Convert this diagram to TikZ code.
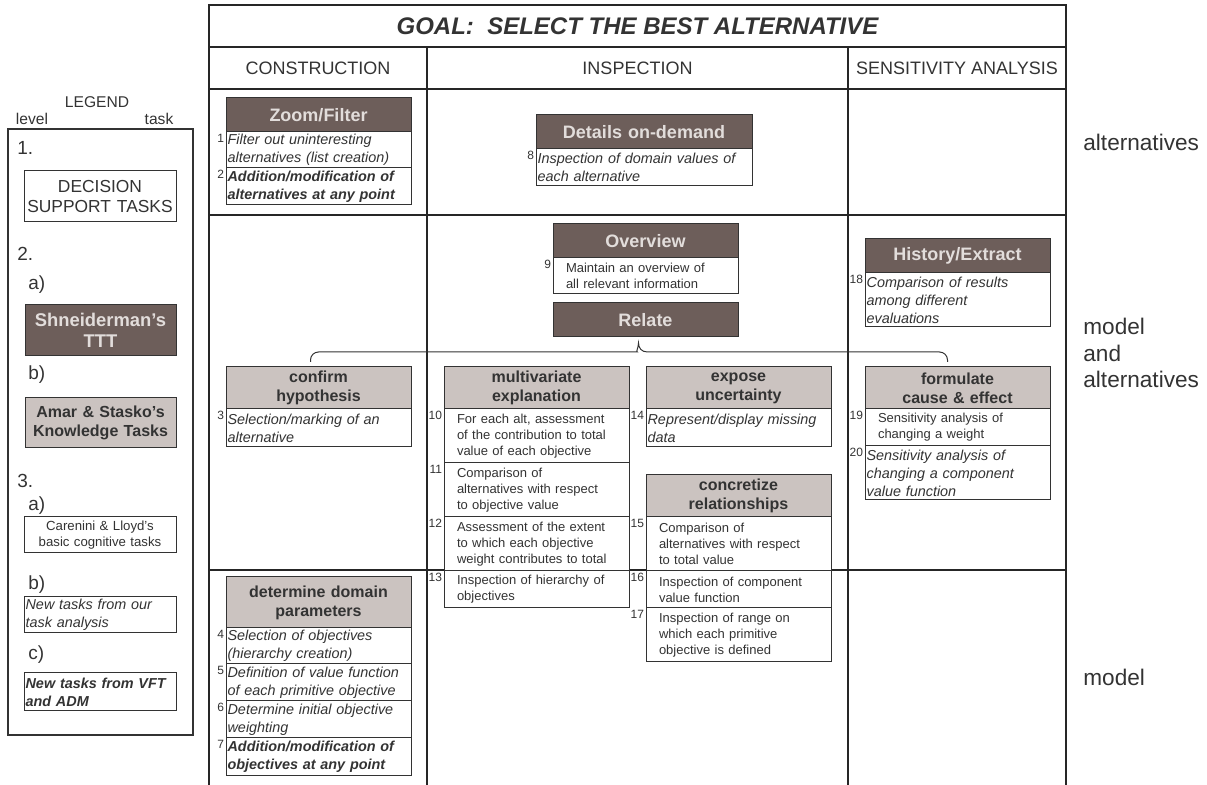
\documentclass[tikz,border=0pt]{standalone}
\usepackage{fontspec}
\setmainfont{Liberation Sans}
\usetikzlibrary{positioning,calc}

\definecolor{darkhd}{HTML}{6D5E5A}
\definecolor{lighthd}{HTML}{CBC3C0}
\definecolor{titlelt}{HTML}{E2DDDB}
\definecolor{ink}{HTML}{333333}

\tikzset{
  grid/.style={draw=black!85, line width=0.55pt},
  cell/.style={draw=ink, line width=0.5pt, outer sep=0pt, inner ysep=0pt, text=ink},
  dkhd/.style={cell, fill=darkhd, text=titlelt, font=\fontsize{9}{10}\selectfont\bfseries,
    inner xsep=0pt, text width=92.5pt, align=center, minimum height=17pt},
  lthd/.style={cell, fill=lighthd, font=\fontsize{8}{9.5}\selectfont\bfseries,
    inner xsep=0pt, text width=92.5pt, align=center, minimum height=21pt},
  itrow/.style={cell, fill=white, font=\fontsize{7.2}{9}\selectfont\itshape,
    inner xsep=0.8pt, text width=90.9pt, align=left, minimum height=18pt},
  bitrow/.style={itrow, font=\fontsize{7.2}{9}\selectfont\bfseries\itshape},
  rgrow/.style={cell, fill=white, font=\fontsize{6.5}{7.9}\selectfont,
    inner xsep=6.5pt, text width=79.5pt, align=left, minimum height=18pt},
  tall/.style={minimum height=27pt},
  num/.style={font=\fontsize{6}{6.5}\selectfont, text=ink, inner sep=0.8pt, anchor=north east},
  colhd/.style={font=\fontsize{9}{10}\selectfont, text=ink},
  lgtxt/.style={font=\fontsize{7.8}{9}\selectfont, text=ink},
  lgnum/.style={font=\fontsize{9.5}{11}\selectfont, text=ink, anchor=west, inner sep=0pt},
  side/.style={font=\fontsize{11.3}{13.4}\selectfont, text=ink, anchor=west, align=left, inner sep=0pt},
  brace/.style={draw=ink, line width=0.5pt}
}

\begin{document}
\begin{tikzpicture}[x=0.5pt,y=-0.5pt]
\useasboundingbox (0,0) rectangle (1207,785);

% table frame
\draw[grid] (209,785) -- (209,5) -- (1066,5) -- (1066,785);
\draw[grid] (209,47) -- (1066,47);
\foreach \y in {89,215,570} \draw[grid] (209,\y) -- (1066,\y);
\foreach \x in {427,848} \draw[grid] (\x,47) -- (\x,785);

\node[font=\fontsize{12}{14}\selectfont\bfseries\itshape, text=ink] (goal) at (637.5,26) {GOAL:\ \ SELECT THE BEST ALTERNATIVE};
\node[colhd] (hcon) at (318,68) {CONSTRUCTION};
\node[colhd] (hins) at (637.5,68) {INSPECTION};
\node[colhd] (hsen) at (957,68) {SENSITIVITY ANALYSIS};

% alternatives row
\node[dkhd, anchor=north west] (zoom) at (226,98) {Zoom/Filter};
\node[itrow, below=0pt of zoom] (r1) {Filter out uninteresting\\alternatives (list creation)};
\node[bitrow, below=0pt of r1, minimum height=18.5pt] (r2) {Addition/modification of\\alternatives at any point};
\node[num] (n1) at (r1.north west) {1};
\node[num] (n2) at (r2.north west) {2};

\node[dkhd, text width=108pt, anchor=north west] (details) at (536,115) {Details on-demand};
\node[itrow, text width=106.4pt, below=0pt of details, minimum height=18.5pt] (r8) {Inspection of domain values of\\each alternative};
\node[num] (n8) at (r8.north west) {8};

% model and alternatives row
\node[dkhd, anchor=north west] (overview) at (553,224) {Overview};
\node[rgrow, below=0pt of overview] (r9) {Maintain an overview of\\all relevant information};
\node[num] (n9) at (r9.north west) {9};
\node[dkhd, anchor=north west] (relate) at (553,303) {Relate};

\node[dkhd, anchor=north west] (history) at (865,239) {History/Extract};
\node[itrow, tall, below=0pt of history] (r18) {Comparison of results\\among different\\evaluations};
\node[num] (n18) at (r18.north west) {18};

\node[lthd, anchor=north west] (confirm) at (226,367) {confirm\\hypothesis};
\node[itrow, below=0pt of confirm, minimum height=19pt] (r3) {Selection/marking of an\\alternative};
\node[num] (n3) at (r3.north west) {3};

\node[lthd, anchor=north west] (multi) at (444,367) {multivariate\\explanation};
\node[rgrow, tall, below=0pt of multi] (r10) {For each alt, assessment\\of the contribution to total\\value of each objective};
\node[rgrow, tall, below=0pt of r10] (r11) {Comparison of\\alternatives with respect\\to objective value};
\node[rgrow, tall, below=0pt of r11] (r12) {Assessment of the extent\\to which each objective\\weight contributes to total};
\node[rgrow, below=0pt of r12, minimum height=18.5pt] (r13) {Inspection of hierarchy of\\objectives};
\foreach \n in {10,11,12,13} \node[num] (n\n) at (r\n.north west) {\n};

\node[lthd, anchor=north west] (expose) at (646,367) {expose\\uncertainty};
\node[itrow, below=0pt of expose, minimum height=19pt] (r14) {Represent/display missing\\data};
\node[num] (n14) at (r14.north west) {14};

\node[lthd, anchor=north west] (concrete) at (646,475) {concretize\\relationships};
\node[rgrow, tall, below=0pt of concrete] (r15) {Comparison of\\alternatives with respect\\to total value};
\node[rgrow, below=0pt of r15, minimum height=18.5pt] (r16) {Inspection of component\\value function};
\node[rgrow, tall, below=0pt of r16] (r17) {Inspection of range on\\which each primitive\\objective is defined};
\foreach \n in {15,16,17} \node[num] (n\n) at (r\n.north west) {\n};

\node[lthd, anchor=north west] (formulate) at (865,367) {formulate\\cause \& effect};
\node[rgrow, below=0pt of formulate, minimum height=18.5pt] (r19) {Sensitivity analysis of\\changing a weight};
\node[itrow, tall, below=0pt of r19] (r20) {Sensitivity analysis of\\changing a component\\value function};
\foreach \n in {19,20} \node[num] (n\n) at (r\n.north west) {\n};

% brace from Relate
\coordinate (btip) at ($(relate.south)+(-7,6)$);
\coordinate (bl) at ($(confirm.north)+(-8,-5)$);
\coordinate (br) at ($(formulate.north)+(-10,-5)$);
\draw[brace] (bl) [rounded corners=4pt] |- ($(btip)+(-9,9)$) [sharp corners]
  .. controls +(6,0) and +(0,5) .. (btip)
  .. controls +(0,5) and +(-6,0) .. ($(btip)+(9,9)$) [rounded corners=4pt] -| (br);

% model row
\node[lthd, anchor=north west, minimum height=25.5pt] (domain) at (226,577) {determine domain\\parameters};
\node[itrow, below=0pt of domain] (r4) {Selection of objectives\\(hierarchy creation)};
\node[itrow, below=0pt of r4, minimum height=18.5pt] (r5) {Definition of value function\\of each primitive objective};
\node[itrow, below=0pt of r5, minimum height=18.5pt] (r6) {Determine initial objective\\weighting};
\node[bitrow, below=0pt of r6, minimum height=19pt] (r7) {Addition/modification of\\objectives at any point};
\foreach \n in {4,5,6,7} \node[num] (n\n) at (r\n.north west) {\n};

% side labels
\node[side] (salt) at (1083,142) {alternatives};
\node[side] (smix) at (1083,353) {model\\and\\alternatives};
\node[side] (smod) at (1083,677) {model};

% legend
\node[lgtxt] (legend) at (97,102) {LEGEND};
\node[lgtxt] (level) at (32,119) {level};
\node[lgtxt] (task) at (159,119) {task};
\draw[grid, draw=ink] (8,129) rectangle (193,735);
\node[lgnum] (l1) at (17,148) {1.};
\node[cell, font=\fontsize{8.7}{10}\selectfont, text width=76pt, inner xsep=0pt, align=center,
  minimum height=25.5pt, anchor=north west] (lgdst) at (24,171) {DECISION\\SUPPORT TASKS};
\node[lgnum] (l2) at (17,254) {2.};
\node[lgnum] (l2a) at (28,285) {a)};
\node[dkhd, font=\fontsize{9.2}{10.5}\selectfont\bfseries, text width=75.5pt, minimum height=25.5pt,
  anchor=north west] (lgttt) at (25,305) {Shneiderman's\\TTT};
\node[lgnum] (l2b) at (28,375) {b)};
\node[lthd, text width=75.5pt, minimum height=25pt, anchor=north west] (lgamar) at (25,398) {Amar \& Stasko's\\Knowledge Tasks};
\node[lgnum] (l3) at (17,481) {3.};
\node[lgnum] (l3a) at (28,506) {a)};
\node[cell, font=\fontsize{6.6}{8}\selectfont, text width=74pt, inner xsep=1pt, align=center,
  minimum height=18pt, anchor=north west] (lgcar) at (24,517) {Carenini \& Lloyd's\\basic cognitive tasks};
\node[lgnum] (l3b) at (28,585) {b)};
\node[itrow, text width=74.4pt, anchor=north west] (lgnew) at (24,597) {New tasks from our\\task analysis};
\node[lgnum] (l3c) at (28,655) {c)};
\node[bitrow, text width=74.4pt, minimum height=19pt, anchor=north west] (lgvft) at (24,673) {New tasks from VFT\\and ADM};
\end{tikzpicture}
\end{document}
